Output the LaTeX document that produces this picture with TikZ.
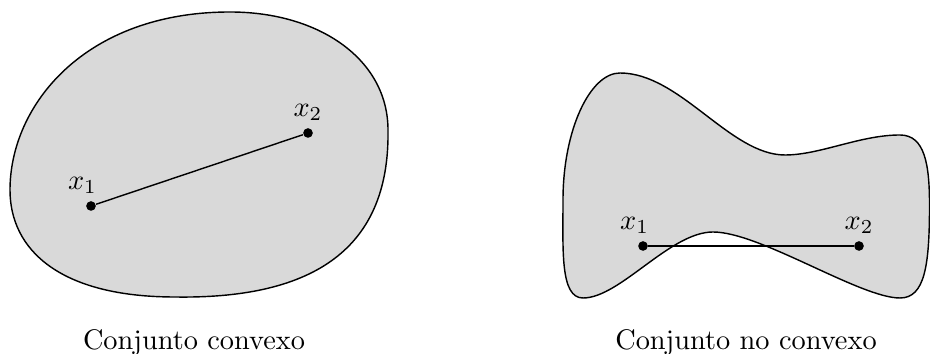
\documentclass[tikz,border=0pt]{standalone}
\usepackage{amsmath}
\usepackage{tikz}
\usetikzlibrary{positioning}

\begin{document}
\begin{tikzpicture}[x=0.353pt, y=-0.353pt,
  region/.style={draw=black, line width=0.5pt, fill=black!15},
  pnt/.style={circle, fill=black, inner sep=0pt, minimum size=3.4pt},
  seg/.style={line width=0.5pt},
  caption/.style={anchor=base, font=\normalsize}]

  \useasboundingbox (0,0) rectangle (930,354);

  % convex set
  \draw[region] (230,12) .. controls (320,12) and (388,60) .. (388,130)
    .. controls (390,255) and (305,299) .. (175,297)
    .. controls (60,297) and (10,250) .. (10,190)
    .. controls (10,105) and (85,12) .. cycle;
  \node[pnt, label={[xshift=-3pt, label distance=-1pt]above:$x_1$}] (a1) at (91,206) {};
  \node[pnt, label={[label distance=-1pt]above:$x_2$}] (a2) at (308,133) {};
  \draw[seg] (a1) -- (a2);
  \node[caption] (capa) at (194,350) {Conjunto convexo};

  % non-convex set
  \draw[region] (620,73) .. controls (680,73) and (730,155) .. (785,155)
    .. controls (820,155) and (860,135) .. (900,135)
    .. controls (925,135) and (929.5,165) .. (929.5,205)
    .. controls (929.5,265) and (925,298) .. (900,298)
    .. controls (860,298) and (760,232) .. (713,232)
    .. controls (670,232) and (620,298) .. (583,298)
    .. controls (560,298) and (563,250) .. (563,200)
    .. controls (563,130) and (590,73) .. cycle;
  \node[pnt, label={[xshift=-3pt, label distance=-1pt]above:$x_1$}] (b1) at (643,246) {};
  \node[pnt, label={[label distance=-1pt]above:$x_2$}] (b2) at (859,246) {};
  \draw[seg] (b1) -- (b2);
  \node[caption] (capb) at (746,350) {Conjunto no convexo};
\end{tikzpicture}
\end{document}
